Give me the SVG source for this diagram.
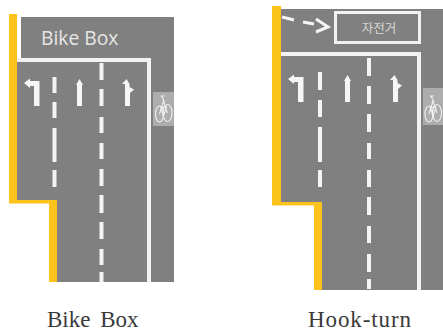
<svg xmlns="http://www.w3.org/2000/svg" width="443" height="333" viewBox="0 0 443 333">
<style>
.road{fill:#808080}
.yel{fill:#fcc31c}
.wl{fill:#f2f2f2}
.dash{stroke:#f4f4f4;stroke-width:4;fill:none}
.arrow{fill:#f6f6f6}
.bikebg{fill:#adadad}
.bike{fill:none;stroke:#f0f0f0;stroke-width:1.1}
.cap{font-family:"Liberation Serif",serif;font-size:23px;fill:#3a3a3a}
</style>
<defs>
<g id="leftArrow"><path class="arrow" d="M0 4 L6 -0.500 V2 H15.500 V27 H10 V7 H6 V9 Z"/></g>
<g id="upArrow"><path class="arrow" d="M0 6 L3.500 0 L7 6 H6 V27 H1 V6 Z"/></g>
<g id="upRight"><path class="arrow" d="M0 5 L4.500 0 L7.500 5 V8 L12 10.500 L8 14 V27 H3 V5 Z"/></g>
<g id="bikeIcon"><ellipse class="bike" cx="5" cy="22" rx="4" ry="8"/><ellipse class="bike" cx="13" cy="21" rx="4.500" ry="8.500"/><path class="bike" d="M5 22 L9 9 L13 21 M6 15 H12 L9 24 Z M7 4 L10 10 M6 4 H10"/></g>
</defs>
<g id="bike-box">
<path class="road" d="M21 17 H174 V282 H57 V203 H17 V58 H21 Z"/>
<rect class="yel" x="9" y="14" width="8" height="189"/>
<rect class="yel" x="9" y="200" width="48" height="3.500"/>
<rect class="yel" x="49" y="200" width="8" height="82"/>
<rect class="wl" x="17" y="58" width="134" height="4"/>
<rect class="wl" x="147" y="58" width="4" height="224"/>
<text x="41" y="45" font-family="'Open Sans','Liberation Sans',sans-serif" font-size="19.300" fill="#e6e6e6">Bike Box</text>
<path class="dash" d="M54.500 77V93M54.500 102V118M54.500 128V162M54.500 170V187"/>
<path class="dash" d="M101.500 63V80M101.500 89V106M101.500 117V133M101.500 143V159M101.500 169V186M101.500 195V213M101.500 222V239M101.500 249V265M101.500 272V282"/>
<use href="#leftArrow" x="24" y="79"/>
<use href="#upArrow" x="76" y="79"/>
<use href="#upRight" x="122" y="79"/>
<rect class="bikebg" x="153" y="92" width="21" height="34"/>
<use href="#bikeIcon" x="154.500" y="92"/>
</g>
<g id="hook-turn">
<path class="road" d="M281 9 H443 V290 H322 V205 H281 Z"/>
<rect class="yel" x="272" y="6" width="9" height="199"/>
<rect class="yel" x="272" y="202" width="50" height="3.500"/>
<rect class="yel" x="314" y="202" width="8" height="88"/>
<rect class="wl" x="281" y="52" width="140" height="4"/>
<rect class="wl" x="417" y="52" width="4" height="238"/>
<rect x="335.500" y="12.500" width="84" height="30" fill="none" stroke="#f2f2f2" stroke-width="3"/>
<text x="379" y="33" text-anchor="middle" font-family="'Noto Sans CJK KR',sans-serif" font-size="12.500" fill="#d8d8d8">자전거</text>
<path d="M282 17 L294 20M303 22 L314 24" stroke="#f4f4f4" stroke-width="3" fill="none"/>
<path d="M316 19 L328 27 L316 32" stroke="#f4f4f4" stroke-width="3" fill="none"/>
<path class="dash" d="M320 72V90M320 100V117M320 127V162M320 170V187"/>
<path class="dash" d="M369 58V76M369 86V104M369 114V132M369 143V159M369 170V187M369 197V215M369 226V243M369 254V272M369 279V289"/>
<use href="#leftArrow" x="288" y="75"/>
<use href="#upArrow" x="344" y="75"/>
<use href="#upRight" x="390" y="75"/>
<rect class="bikebg" x="423" y="88" width="20" height="37"/>
<use href="#bikeIcon" x="424" y="92"/>
</g>
<g id="labels">
<text class="cap" x="47" y="327" word-spacing="4">Bike Box</text>
<text class="cap" x="308" y="327" textLength="103">Hook-turn</text>
</g>
</svg>
